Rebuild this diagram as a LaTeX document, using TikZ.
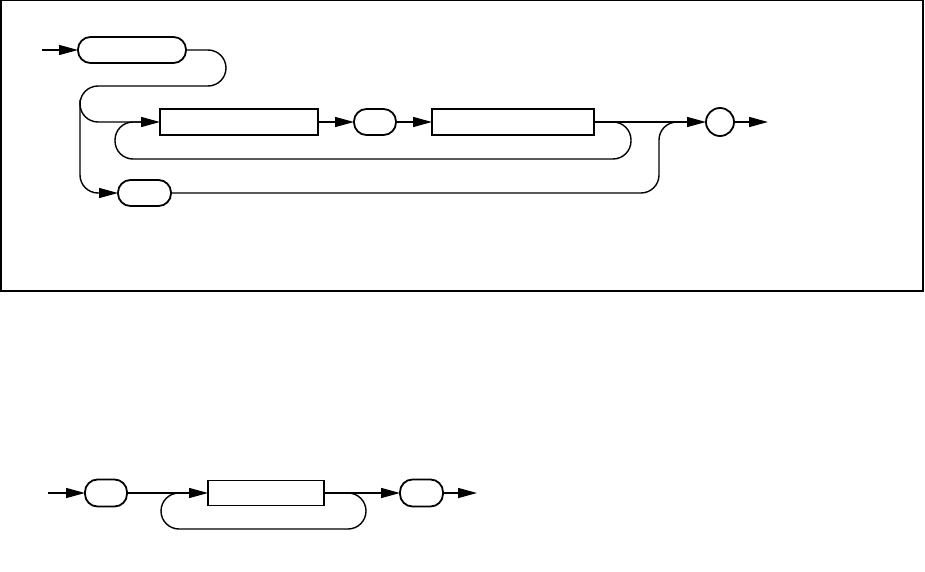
\documentclass[tikz,border=0pt]{standalone}
\usetikzlibrary{arrows.meta}
\begin{document}
\begin{tikzpicture}[x=1pt,y=-1pt,
  line width=1.4pt,
  arr/.style={-{Triangle[length=19pt,width=10pt]}},
  rbox/.style={draw,line width=1.8pt,rounded corners=12.5pt,inner sep=0pt,outer sep=0pt,minimum height=26pt},
  sbox/.style={draw,line width=1.8pt,inner sep=0pt,outer sep=0pt,minimum height=26pt},
  cbox/.style={draw,line width=1.8pt,circle,inner sep=0pt,outer sep=0pt,minimum size=28pt},
  track/.style={rounded corners=18pt}]
\useasboundingbox (0,0) rectangle (925,572);
\draw (0.8,0.8) rectangle (923,291);
% top diagram
\node[rbox,minimum width=108pt] (b1) at (132,50) {};
\node[sbox,minimum width=158pt] (b2) at (239,122) {};
\node[rbox,minimum width=42pt] (b3) at (375,122) {};
\node[sbox,minimum width=162pt] (b4) at (513,122) {};
\node[cbox] (c) at (720,122) {};
\node[rbox,minimum width=53pt] (b5) at (144.5,193) {};
\coordinate (in1) at (42,50);
\coordinate (out1) at (768,122);
\draw[arr] (in1) -- (b1.west);
\draw[track,arr] (b1.east) -- (226,50) -- (226,86) -- (80,86) -- (80,193) -- (b5.west);
\draw[track] (b4.east) -- (631,122) -- (631,159) -- (115,159) -- (115,122) -- (145,122);
\draw[track,arr] (80,100) -- (80,122) -- (b2.west);
\draw[arr] (b2.east) -- (b3.west);
\draw[arr] (b3.east) -- (b4.west);
\draw[track] (b5.east) -- (659,193) -- (659,122) -- (690,122);
\draw[arr] (b4.east) -- (c.west);
\draw[arr] (c.east) -- (out1);
% bottom diagram
\node[rbox,minimum width=42pt,minimum height=27pt] (A) at (106,493) {};
\node[sbox,minimum width=116pt,minimum height=25pt] (B) at (266,493) {};
\node[rbox,minimum width=43pt,minimum height=27pt] (C) at (421.5,493) {};
\coordinate (in2) at (48,493);
\coordinate (out2) at (477,493);
\draw[arr] (in2) -- (A.west);
\draw[track] (B.east) -- (366,493) -- (366,529) -- (161,529) -- (161,493) -- (190,493);
\draw[arr] (A.east) -- (B.west);
\draw[arr] (B.east) -- (C.west);
\draw[arr] (C.east) -- (out2);
\end{tikzpicture}
\end{document}
